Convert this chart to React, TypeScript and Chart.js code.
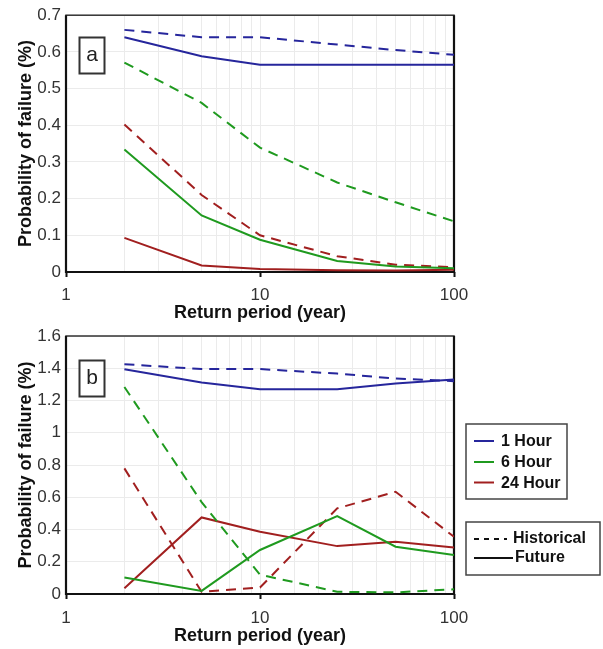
import React, { useEffect, useRef } from 'react';
import { Chart, registerables } from 'chart.js';

Chart.register(...registerables);

// ---- data ----
const returnPeriods = [2, 5, 10, 25, 50, 100];
const xTickLabels = [1, 10, 100];

// Panel a
const aHist1h = [0.66, 0.64, 0.64, 0.62, 0.605, 0.592];
const aFut1h = [0.64, 0.588, 0.565, 0.565, 0.565, 0.565];
const aHist6h = [0.571, 0.461, 0.339, 0.244, 0.19, 0.138];
const aFut6h = [0.334, 0.154, 0.088, 0.03, 0.015, 0.01];
const aHist24h = [0.402, 0.21, 0.1, 0.043, 0.02, 0.013];
const aFut24h = [0.093, 0.018, 0.008, 0.005, 0.004, 0.006];

// Panel b
const bHist1h = [1.425, 1.395, 1.395, 1.367, 1.336, 1.32];
const bFut1h = [1.394, 1.312, 1.27, 1.27, 1.305, 1.33];
const bHist6h = [1.284, 0.57, 0.12, 0.014, 0.01, 0.029];
const bFut6h = [0.103, 0.019, 0.273, 0.483, 0.293, 0.242];
const bHist24h = [0.779, 0.014, 0.04, 0.531, 0.634, 0.355];
const bFut24h = [0.035, 0.475, 0.386, 0.297, 0.324, 0.289];

const durationLabels = ['1 Hour', '6 Hour', '24 Hour'];
const scenarioLabels = ['Historical', 'Future'];

const BLUE = '#26269c';
const GREEN = '#1f9a1f';
const RED = '#a11f1f';
const colors = [BLUE, GREEN, RED];
const FONT = "'Liberation Sans', Arial, sans-serif";
const DASH = [10, 7];
const GRID = '#ebebeb';

function series(hist: number[][], fut: number[][]) {
  const ds: any[] = [];
  for (let i = 0; i < 3; i++) {
    ds.push({
      label: durationLabels[i] + ' ' + scenarioLabels[0],
      data: returnPeriods.map((x, j) => ({ x, y: hist[i][j] })),
      borderColor: colors[i],
      borderWidth: 2,
      borderDash: DASH,
      pointRadius: 0,
      fill: false,
      tension: 0,
    });
    ds.push({
      label: durationLabels[i] + ' ' + scenarioLabels[1],
      data: returnPeriods.map((x, j) => ({ x, y: fut[i][j] })),
      borderColor: colors[i],
      borderWidth: 2,
      pointRadius: 0,
      fill: false,
      tension: 0,
    });
  }
  return ds;
}

function frameAndLabelPlugin(letter: string, boxY: number, showLegend: boolean) {
  return {
    id: 'frame_' + letter,
    beforeDatasetsDraw(chart: any) {
      const { ctx, chartArea: a } = chart;
      ctx.save();
      ctx.strokeStyle = '#333';
      ctx.lineWidth = 1.5;
      ctx.strokeRect(a.left, a.top, a.right - a.left, a.bottom - a.top);
      ctx.strokeStyle = '#111';
      ctx.lineWidth = 2.2;
      ctx.beginPath();
      ctx.moveTo(a.left, a.top);
      ctx.lineTo(a.left, a.bottom);
      ctx.lineTo(a.right, a.bottom);
      ctx.lineTo(a.right, a.top);
      ctx.stroke();
      ctx.restore();
    },
    afterDraw(chart: any) {
      const { ctx } = chart;
      ctx.save();
      // panel letter box
      ctx.fillStyle = '#fff';
      ctx.fillRect(79.5, boxY, 25, 36);
      ctx.strokeStyle = '#333';
      ctx.lineWidth = 2;
      ctx.strokeRect(79.5, boxY, 25, 36);
      ctx.fillStyle = '#222';
      ctx.font = `21px ${FONT}`;
      ctx.textAlign = 'center';
      ctx.textBaseline = 'middle';
      ctx.fillText(letter, 92, boxY + 18);

      if (showLegend) {
        // duration legend
        ctx.strokeStyle = '#444';
        ctx.lineWidth = 1.5;
        ctx.strokeRect(466, 104, 101, 75);
        ctx.font = `bold 16px ${FONT}`;
        ctx.textAlign = 'left';
        ctx.textBaseline = 'middle';
        const rows = [121, 142, 162.5];
        for (let i = 0; i < 3; i++) {
          ctx.strokeStyle = colors[i];
          ctx.lineWidth = 2;
          ctx.beginPath();
          ctx.moveTo(474, rows[i]);
          ctx.lineTo(494, rows[i]);
          ctx.stroke();
          ctx.fillStyle = '#111';
          ctx.fillText(durationLabels[i], 501, rows[i] + 1);
        }
        // scenario legend
        ctx.strokeStyle = '#444';
        ctx.lineWidth = 1.5;
        ctx.strokeRect(466, 202, 134, 53);
        ctx.strokeStyle = '#111';
        ctx.lineWidth = 2;
        ctx.setLineDash([5, 5]);
        ctx.beginPath();
        ctx.moveTo(474, 219);
        ctx.lineTo(507, 219);
        ctx.stroke();
        ctx.setLineDash([]);
        ctx.beginPath();
        ctx.moveTo(474, 238);
        ctx.lineTo(513, 238);
        ctx.stroke();
        ctx.fillStyle = '#111';
        ctx.fillText(scenarioLabels[0], 513, 219);
        ctx.fillText(scenarioLabels[1], 515, 238);
      }
      ctx.restore();
    },
  };
}

function makeConfig(
  hist: number[][],
  fut: number[][],
  yMax: number,
  yStep: number,
  padTop: number,
  xAxisH: number,
  titlePadBottom: number,
  tickPad: number,
  plugin: any
): any {
  return {
    type: 'line',
    data: { datasets: series(hist, fut) },
    options: {
      responsive: false,
      animation: false,
      devicePixelRatio: 1,
      layout: { padding: { left: 0, right: 149, top: padTop, bottom: 0 } },
      plugins: { legend: { display: false }, tooltip: { enabled: false } },
      scales: {
        x: {
          type: 'logarithmic',
          min: 1,
          max: 100,
          afterFit(scale: any) {
            scale.height = xAxisH;
          },
          border: { display: false },
          grid: {
            color: (c: any) => (c.tick && (c.tick.value === 1 || c.tick.value === 100) ? 'transparent' : GRID),
            lineWidth: 1,
            drawTicks: true,
            tickLength: 5,
            tickWidth: 2,
            tickColor: (c: any) => (c.tick && xTickLabels.includes(c.tick.value) ? '#111' : 'transparent'),
          },
          ticks: {
            autoSkip: false,
            maxRotation: 0,
            padding: tickPad,
            color: '#333',
            font: { family: FONT, size: 17 },
            callback: (v: any) => (xTickLabels.includes(Number(v)) ? String(v) : ''),
          },
          title: {
            display: true,
            text: 'Return period (year)',
            color: '#111',
            font: { family: FONT, size: 18, weight: 'bold' },
            padding: { top: 0, bottom: titlePadBottom },
          },
        },
        y: {
          type: 'linear',
          min: 0,
          max: yMax,
          afterFit(scale: any) {
            scale.width = 66;
          },
          border: { display: false },
          grid: { color: GRID, lineWidth: 1, drawTicks: false },
          ticks: {
            stepSize: yStep,
            padding: 5,
            color: '#333',
            font: { family: FONT, size: 17 },
            callback: (v: any) => String(Number(Number(v).toFixed(2))),
          },
          title: {
            display: true,
            text: 'Probability of failure (%)',
            color: '#111',
            font: { family: FONT, size: 18, weight: 'bold' },
            padding: { top: 15, bottom: 0 },
          },
        },
      },
    },
    plugins: [plugin],
  };
}

export default function App() {
  const refA = useRef<HTMLCanvasElement | null>(null);
  const refB = useRef<HTMLCanvasElement | null>(null);

  useEffect(() => {
    const chartA = new Chart(
      refA.current as HTMLCanvasElement,
      makeConfig(
        [aHist1h, aHist6h, aHist24h],
        [aFut1h, aFut6h, aFut24h],
        0.7,
        0.1,
        13,
        52,
        0,
        8,
        frameAndLabelPlugin('a', 37.5, false)
      )
    );
    const chartB = new Chart(
      refB.current as HTMLCanvasElement,
      makeConfig(
        [bHist1h, bHist6h, bHist24h],
        [bFut1h, bFut6h, bFut24h],
        1.6,
        0.2,
        16,
        55,
        2,
        9,
        frameAndLabelPlugin('b', 40.5, true)
      )
    );
    return () => {
      chartA.destroy();
      chartB.destroy();
    };
  }, []);

  return (
    <div style={{ position: 'absolute', left: 0, top: 0, width: 603, height: 649, background: '#fff' }}>
      <canvas ref={refA} width={603} height={324} style={{ position: 'absolute', left: 0, top: 0, width: 603, height: 324 }} />
      <canvas ref={refB} width={603} height={329} style={{ position: 'absolute', left: 0, top: 320, width: 603, height: 329 }} />
    </div>
  );
}
